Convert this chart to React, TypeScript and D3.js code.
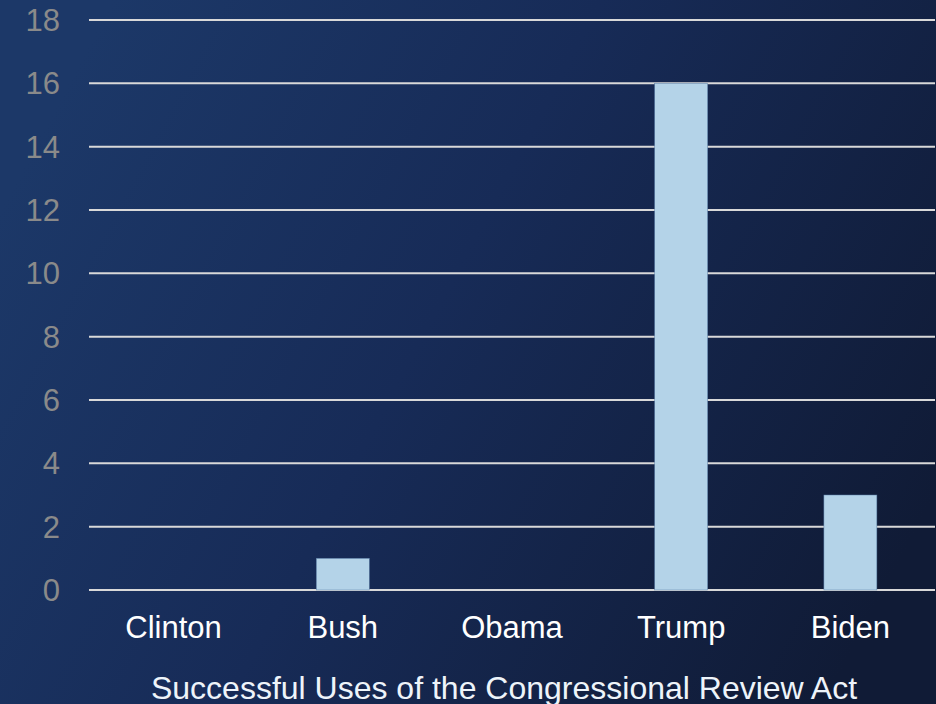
import React from "react";
import * as d3 from "d3";

const categories = ["Clinton", "Bush", "Obama", "Trump", "Biden"];
const values = [0, 1, 0, 16, 3];
const yTicks = [0, 2, 4, 6, 8, 10, 12, 14, 16, 18];
const title = "Successful Uses of the Congressional Review Act";

const W = 936;
const H = 704;
const left = 89;
const right = 935;
const top = 20;
const bottom = 590;

export default function App() {
  const x = d3.scaleBand<string>().domain(categories).range([left, right]).padding(0);
  const y = d3.scaleLinear().domain([0, 18]).range([bottom, top]);
  const bw = x.step() * 0.313;
  const font = "'Liberation Sans', Arial, sans-serif";
  return (
    <div style={{ position: "fixed", left: 0, top: 0, width: W, height: H }}>
      <svg width={W} height={H} style={{ display: "block" }}>
        <defs>
          <linearGradient id="bg" x1="0" y1="0.3" x2="1" y2="0.7">
            <stop offset="0%" stopColor="#1c3868" />
            <stop offset="45%" stopColor="#172b57" />
            <stop offset="100%" stopColor="#101b36" />
          </linearGradient>
        </defs>
        <rect x={0} y={0} width={W} height={H} fill="url(#bg)" />
        {yTicks.map((t) => (
          <g key={t}>
            <line x1={left} x2={right} y1={y(t)} y2={y(t)} stroke="#d9d9d9" strokeWidth={2} />
            <text
              x={60}
              y={y(t)}
              dy="0.36em"
              textAnchor="end"
              fill="#8a8a8a"
              fontFamily={font}
              fontSize={31}
            >
              {t}
            </text>
          </g>
        ))}
        {categories.map((c, i) => {
          const cx = (x(c) as number) + x.step() / 2;
          return (
            <g key={c}>
              {values[i] > 0 && (
                <rect
                  x={cx - bw / 2}
                  y={y(values[i])}
                  width={bw}
                  height={y(0) - y(values[i])}
                  fill="#b4d3e8"
                  stroke="#5a7fa8"
                  strokeWidth={0.5}
                />
              )}
              <text
                x={cx}
                y={638}
                textAnchor="middle"
                fill="#ffffff"
                fontFamily={font}
                fontSize={31}
              >
                {c}
              </text>
            </g>
          );
        })}
        <text
          x={504}
          y={699}
          textAnchor="middle"
          fill="#eef4fa"
          fontFamily={font}
          fontSize={32}
        >
          {title}
        </text>
      </svg>
    </div>
  );
}
